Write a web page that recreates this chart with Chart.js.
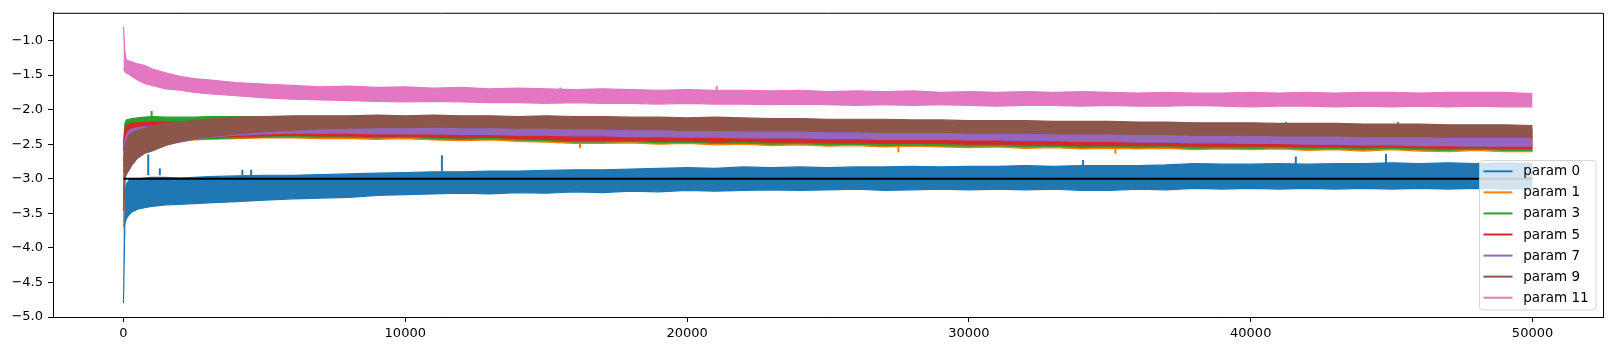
<!DOCTYPE html>
<html>
<head>
<meta charset="utf-8">
<script src="https://cdn.jsdelivr.net/npm/chart.js@4"></script>
<style>
  html, body { margin: 0; padding: 0; background: #fff; }
</style>
</head>
<body>
<canvas id="ratios" width="1613" height="351"></canvas>
<script>
var steps = [0, 50, 100, 200, 300, 500, 750, 1000, 1500, 2000, 2500, 3000,
  4000, 5000, 6000, 7000, 8000, 9000, 10000, 11000, 12000, 13000,
  14000, 15000, 16000, 17000, 18000, 19000, 20000, 21000, 22000, 23000,
  24000, 25000, 26000, 27000, 28000, 29000, 30000, 31000, 32000, 33000,
  34000, 35000, 36000, 37000, 38000, 39000, 40000, 41000, 42000, 43000,
  44000, 45000, 46000, 47000, 48000, 49000, 50000];

// each noisy series is kept as its upper / lower envelope
var p0Hi = [-3.70, -3.18, -3.08, -3.02, -3.00, -3.00, -2.99, -2.98, -2.98, -2.99, -2.98, -2.97,
  -2.96, -2.95, -2.95, -2.94, -2.93, -2.92, -2.91, -2.90, -2.90, -2.89,
  -2.89, -2.88, -2.87, -2.87, -2.86, -2.85, -2.84, -2.85, -2.83, -2.84,
  -2.83, -2.84, -2.83, -2.83, -2.82, -2.83, -2.82, -2.82, -2.81, -2.82,
  -2.81, -2.81, -2.81, -2.80, -2.78, -2.79, -2.79, -2.78, -2.79, -2.78,
  -2.78, -2.77, -2.78, -2.77, -2.78, -2.77, -2.78];
var p0Lo = [-4.80, -3.66, -3.58, -3.52, -3.48, -3.44, -3.42, -3.40, -3.38, -3.37, -3.36, -3.35,
  -3.33, -3.31, -3.29, -3.28, -3.27, -3.24, -3.23, -3.22, -3.21, -3.22,
  -3.20, -3.21, -3.19, -3.20, -3.18, -3.19, -3.17, -3.18, -3.17, -3.16,
  -3.17, -3.16, -3.15, -3.17, -3.16, -3.15, -3.16, -3.15, -3.16, -3.15,
  -3.17, -3.17, -3.15, -3.16, -3.14, -3.15, -3.14, -3.15, -3.14, -3.15,
  -3.14, -3.15, -3.14, -3.15, -3.14, -3.15, -3.14];

var p1Hi = [-2.90, -2.55, -2.45, -2.38, -2.34, -2.30, -2.28, -2.27, -2.26, -2.25, -2.25, -2.24,
  -2.24, -2.24, -2.24, -2.25, -2.25, -2.25, -2.26, -2.26, -2.26, -2.27,
  -2.27, -2.27, -2.28, -2.28, -2.28, -2.29, -2.29, -2.29, -2.30, -2.30,
  -2.30, -2.31, -2.31, -2.31, -2.32, -2.32, -2.32, -2.33, -2.33, -2.33,
  -2.34, -2.34, -2.34, -2.35, -2.35, -2.35, -2.36, -2.36, -2.36, -2.37,
  -2.37, -2.37, -2.38, -2.38, -2.38, -2.39, -2.39];
var p1Lo = [-3.70, -2.98, -2.90, -2.84, -2.78, -2.68, -2.61, -2.56, -2.50, -2.46, -2.44, -2.43,
  -2.42, -2.41, -2.41, -2.42, -2.42, -2.43, -2.42, -2.44, -2.45, -2.44,
  -2.46, -2.47, -2.49, -2.49, -2.48, -2.50, -2.49, -2.51, -2.50, -2.52,
  -2.51, -2.53, -2.52, -2.54, -2.53, -2.54, -2.55, -2.54, -2.56, -2.55,
  -2.57, -2.56, -2.57, -2.56, -2.58, -2.57, -2.58, -2.57, -2.59, -2.58,
  -2.60, -2.58, -2.60, -2.61, -2.59, -2.61, -2.61];

var p3Hi = [-2.50, -2.20, -2.15, -2.14, -2.13, -2.12, -2.11, -2.10, -2.11, -2.11, -2.11, -2.10,
  -2.10, -2.10, -2.11, -2.13, -2.13, -2.12, -2.13, -2.12, -2.13, -2.13,
  -2.14, -2.13, -2.14, -2.14, -2.15, -2.15, -2.16, -2.15, -2.16, -2.17,
  -2.17, -2.18, -2.18, -2.18, -2.19, -2.19, -2.20, -2.20, -2.20, -2.21,
  -2.21, -2.21, -2.22, -2.22, -2.23, -2.23, -2.23, -2.24, -2.24, -2.24,
  -2.25, -2.25, -2.25, -2.26, -2.26, -2.26, -2.27];
var p3Lo = [-3.40, -2.97, -2.91, -2.85, -2.79, -2.69, -2.62, -2.57, -2.50, -2.46, -2.43, -2.42,
  -2.41, -2.40, -2.39, -2.40, -2.40, -2.41, -2.40, -2.42, -2.43, -2.42,
  -2.44, -2.45, -2.47, -2.47, -2.46, -2.48, -2.47, -2.49, -2.48, -2.50,
  -2.49, -2.51, -2.50, -2.52, -2.51, -2.52, -2.53, -2.52, -2.54, -2.53,
  -2.55, -2.54, -2.55, -2.54, -2.56, -2.55, -2.56, -2.55, -2.57, -2.56,
  -2.58, -2.56, -2.58, -2.59, -2.57, -2.59, -2.59];

var p5Hi = [-2.60, -2.30, -2.23, -2.21, -2.20, -2.19, -2.19, -2.18, -2.18, -2.18, -2.18, -2.18,
  -2.20, -2.19, -2.18, -2.18, -2.18, -2.17, -2.18, -2.17, -2.18, -2.18,
  -2.19, -2.18, -2.19, -2.19, -2.20, -2.20, -2.21, -2.20, -2.21, -2.22,
  -2.22, -2.23, -2.23, -2.23, -2.24, -2.24, -2.25, -2.25, -2.25, -2.26,
  -2.26, -2.26, -2.27, -2.27, -2.28, -2.28, -2.28, -2.29, -2.29, -2.29,
  -2.30, -2.30, -2.30, -2.31, -2.31, -2.31, -2.32];
var p5Lo = [-3.30, -2.97, -2.91, -2.85, -2.79, -2.69, -2.62, -2.57, -2.50, -2.45, -2.42, -2.40,
  -2.39, -2.38, -2.37, -2.38, -2.38, -2.39, -2.38, -2.40, -2.41, -2.40,
  -2.42, -2.43, -2.45, -2.45, -2.44, -2.46, -2.45, -2.47, -2.46, -2.47,
  -2.47, -2.48, -2.48, -2.49, -2.49, -2.49, -2.50, -2.50, -2.51, -2.51,
  -2.52, -2.52, -2.52, -2.52, -2.53, -2.53, -2.53, -2.53, -2.54, -2.54,
  -2.55, -2.54, -2.55, -2.56, -2.55, -2.56, -2.56];

var p7Hi = [-2.90, -2.45, -2.37, -2.30, -2.28, -2.26, -2.25, -2.24, -2.23, -2.22, -2.21, -2.21,
  -2.18, -2.17, -2.16, -2.16, -2.16, -2.15, -2.16, -2.15, -2.16, -2.16,
  -2.17, -2.16, -2.17, -2.17, -2.18, -2.18, -2.19, -2.18, -2.19, -2.20,
  -2.20, -2.21, -2.21, -2.21, -2.22, -2.22, -2.23, -2.23, -2.23, -2.24,
  -2.24, -2.24, -2.25, -2.25, -2.26, -2.26, -2.26, -2.27, -2.27, -2.27,
  -2.28, -2.28, -2.28, -2.29, -2.29, -2.29, -2.30];
var p7Lo = [-3.45, -3.00, -2.94, -2.87, -2.80, -2.70, -2.63, -2.59, -2.51, -2.47, -2.43, -2.40,
  -2.37, -2.35, -2.34, -2.34, -2.34, -2.35, -2.35, -2.35, -2.36, -2.36,
  -2.37, -2.37, -2.38, -2.38, -2.39, -2.39, -2.40, -2.40, -2.41, -2.41,
  -2.41, -2.42, -2.42, -2.43, -2.43, -2.43, -2.44, -2.44, -2.45, -2.45,
  -2.46, -2.46, -2.47, -2.47, -2.48, -2.48, -2.49, -2.49, -2.50, -2.50,
  -2.51, -2.51, -2.52, -2.52, -2.53, -2.53, -2.53];

var p9Hi = [-2.75, -2.55, -2.45, -2.37, -2.34, -2.30, -2.27, -2.24, -2.20, -2.18, -2.16, -2.14,
  -2.11, -2.10, -2.09, -2.09, -2.09, -2.08, -2.09, -2.08, -2.09, -2.09,
  -2.10, -2.09, -2.10, -2.10, -2.11, -2.11, -2.12, -2.11, -2.12, -2.13,
  -2.13, -2.14, -2.14, -2.14, -2.15, -2.15, -2.16, -2.16, -2.16, -2.17,
  -2.17, -2.17, -2.18, -2.18, -2.19, -2.19, -2.19, -2.20, -2.20, -2.20,
  -2.21, -2.21, -2.21, -2.22, -2.22, -2.22, -2.23];
var p9Lo = [-3.47, -3.00, -2.93, -2.87, -2.80, -2.70, -2.63, -2.60, -2.52, -2.46, -2.42, -2.39,
  -2.35, -2.32, -2.30, -2.28, -2.27, -2.26, -2.26, -2.25, -2.26, -2.26,
  -2.27, -2.27, -2.28, -2.28, -2.29, -2.29, -2.30, -2.30, -2.31, -2.31,
  -2.31, -2.32, -2.32, -2.33, -2.33, -2.33, -2.34, -2.34, -2.34, -2.35,
  -2.35, -2.35, -2.36, -2.36, -2.37, -2.37, -2.37, -2.38, -2.38, -2.38,
  -2.39, -2.39, -2.39, -2.40, -2.40, -2.40, -2.40];

var p11Hi = [-0.80, -1.15, -1.28, -1.30, -1.31, -1.34, -1.36, -1.41, -1.47, -1.52, -1.55, -1.57,
  -1.61, -1.63, -1.65, -1.67, -1.66, -1.68, -1.67, -1.69, -1.68, -1.70,
  -1.69, -1.70, -1.71, -1.70, -1.71, -1.72, -1.71, -1.72, -1.72, -1.73,
  -1.72, -1.74, -1.73, -1.74, -1.73, -1.75, -1.74, -1.75, -1.74, -1.75,
  -1.74, -1.75, -1.76, -1.75, -1.76, -1.76, -1.75, -1.76, -1.75, -1.76,
  -1.75, -1.75, -1.76, -1.75, -1.75, -1.75, -1.77];
var p11Lo = [-1.40, -1.45, -1.47, -1.49, -1.52, -1.57, -1.62, -1.65, -1.70, -1.72, -1.75, -1.77,
  -1.80, -1.83, -1.85, -1.86, -1.87, -1.88, -1.89, -1.88, -1.89, -1.90,
  -1.90, -1.91, -1.90, -1.91, -1.91, -1.92, -1.91, -1.92, -1.92, -1.93,
  -1.92, -1.93, -1.94, -1.93, -1.94, -1.93, -1.94, -1.95, -1.94, -1.94,
  -1.95, -1.94, -1.95, -1.95, -1.94, -1.95, -1.96, -1.95, -1.95, -1.96,
  -1.95, -1.96, -1.95, -1.96, -1.95, -1.96, -1.96];

// isolated spikes that stick out of the bands: [series index, step, base, tip]
var spikeSeries = [0, 0, 0, 0, 0, 0, 0, 0, 2, 2, 2, 6, 6, 1, 1, 1];
var spikeSteps = [880, 1290, 4220, 4530, 11300, 34050, 41600, 44800, 1000, 41250, 45230, 15500, 21050, 16200, 27500, 35200];
var spikeBase = [-2.95, -2.95, -2.95, -2.95, -2.90, -2.82, -2.80, -2.80, -2.12, -2.22, -2.23, -1.71, -1.73, -2.47, -2.53, -2.56];
var spikeTips = [-2.65, -2.85, -2.87, -2.87, -2.66, -2.73, -2.68, -2.64, -2.02, -2.18, -2.18, -1.68, -1.66, -2.56, -2.62, -2.64];

// horizontal reference line
var refSteps = [0, 50000];
var refLevel = [-3, -3];

var labels = ['param 0', 'param 1', 'param 3', 'param 5', 'param 7', 'param 9', 'param 11'];
var colors = ['#1f77b4', '#ff7f0e', '#2ca02c', '#d62728', '#9467bd', '#8c564b', '#e377c2'];
var his = [p0Hi, p1Hi, p3Hi, p5Hi, p7Hi, p9Hi, p11Hi];
var los = [p0Lo, p1Lo, p3Lo, p5Lo, p7Lo, p9Lo, p11Lo];

var xTicks = [0, 10000, 20000, 30000, 40000, 50000];
var yTicks = [-5.0, -4.5, -4.0, -3.5, -3.0, -2.5, -2.0, -1.5, -1.0];

function toPoints(xs, ys) {
    return xs.map(function (x, i) { return { x: x, y: ys[i] }; });
}

var datasets = [];
for (var k = 0; k < labels.length; k++) {
    // param 0 is drawn first, later params sit on top of it
    var ord = 2 * (labels.length - k) + 1;
    datasets.push({
        label: labels[k],
        data: toPoints(steps, his[k]),
        borderColor: colors[k],
        backgroundColor: colors[k],
        borderWidth: 1.2,
        fill: '+1',
        order: ord
    });
    datasets.push({
        label: labels[k] + ' low',
        data: toPoints(steps, los[k]),
        borderColor: colors[k],
        borderWidth: 1.2,
        fill: false,
        order: ord
    });

    var pts = [];
    spikeSteps.forEach(function (s, i) {
        if (spikeSeries[i] !== k) return;
        pts.push({ x: s, y: spikeBase[i] }, { x: s, y: spikeTips[i] }, { x: s, y: null });
    });
    if (pts.length) {
        datasets.push({
            label: labels[k] + ' spikes',
            data: pts,
            borderColor: colors[k],
            borderWidth: 2,
            fill: false,
            spanGaps: false,
            order: ord - 0.5
        });
    }
}

datasets.push({
    label: 'ref',
    data: toPoints(refSteps, refLevel),
    borderColor: '#000',
    borderWidth: 2,
    fill: false,
    order: 0
});

var FONT = '"DejaVu Sans", sans-serif';

// top/right spines and the legend box inside the axes
var framePlugin = {
    id: 'frameAndLegend',
    afterDraw: function (chart) {
        var c = chart.ctx, a = chart.chartArea;
        c.save();
        c.strokeStyle = '#000';
        c.lineWidth = 1;
        c.beginPath();
        c.moveTo(a.left, a.top + 0.5);
        c.lineTo(a.right + 0.5, a.top + 0.5);
        c.lineTo(a.right + 0.5, a.bottom);
        c.stroke();

        var bx = 1479.5, by = 160.5, bw = 116.5, bh = 149.5, r = 3;
        c.beginPath();
        c.moveTo(bx + r, by);
        c.arcTo(bx + bw, by, bx + bw, by + bh, r);
        c.arcTo(bx + bw, by + bh, bx, by + bh, r);
        c.arcTo(bx, by + bh, bx, by, r);
        c.arcTo(bx, by, bx + bw, by, r);
        c.closePath();
        c.fillStyle = 'rgba(255,255,255,0.8)';
        c.fill();
        c.strokeStyle = 'rgba(204,204,204,0.8)';
        c.stroke();

        c.font = '13.5px ' + FONT;
        c.textBaseline = 'middle';
        c.textAlign = 'left';
        for (var i = 0; i < labels.length; i++) {
            var y = 171.3 + i * 21.07;
            c.strokeStyle = colors[i];
            c.lineWidth = 2;
            c.beginPath();
            c.moveTo(1483.5, y);
            c.lineTo(1512.5, y);
            c.stroke();
            c.fillStyle = '#000';
            c.fillText(labels[i], 1523.3, y + 0.5);
        }
        c.restore();
    }
};

var ctx = document.getElementById('ratios').getContext('2d');
var ratioChart = new Chart(ctx, {
    type: 'line',
    data: { datasets: datasets },
    options: {
        responsive: false,
        animation: false,
        devicePixelRatio: 1,
        layout: { padding: { top: 9, right: 10, left: 0, bottom: 0 } },
        elements: { point: { radius: 0 }, line: { tension: 0 } },
        plugins: {
            legend: { display: false },
            tooltip: { enabled: false },
            filler: { propagate: false }
        },
        scales: {
            x: {
                type: 'linear',
                min: -2500,
                max: 52500,
                afterBuildTicks: function (axis) {
                    axis.ticks = xTicks.map(function (v) { return { value: v }; });
                },
                afterFit: function (axis) { axis.height = 34; },
                grid: { drawOnChartArea: false, drawTicks: true, tickLength: 5, color: '#000' },
                border: { display: true, color: '#000', width: 1 },
                ticks: {
                    color: '#000',
                    padding: 4,
                    maxRotation: 0,
                    font: { family: FONT, size: 13 },
                    callback: function (v) { return String(v); }
                }
            },
            y: {
                type: 'linear',
                min: -5.0,
                max: -0.6,
                afterBuildTicks: function (axis) {
                    axis.ticks = yTicks.map(function (v) { return { value: v }; });
                },
                afterFit: function (axis) { axis.width = 53; },
                grid: { drawOnChartArea: false, drawTicks: true, tickLength: 5, color: '#000' },
                border: { display: true, color: '#000', width: 1 },
                ticks: {
                    color: '#000',
                    padding: 5,
                    font: { family: FONT, size: 13 },
                    callback: function (v) { return v.toFixed(1).replace('-', '\u2212'); }
                }
            }
        }
    },
    plugins: [framePlugin]
});
</script>
</body>
</html>
